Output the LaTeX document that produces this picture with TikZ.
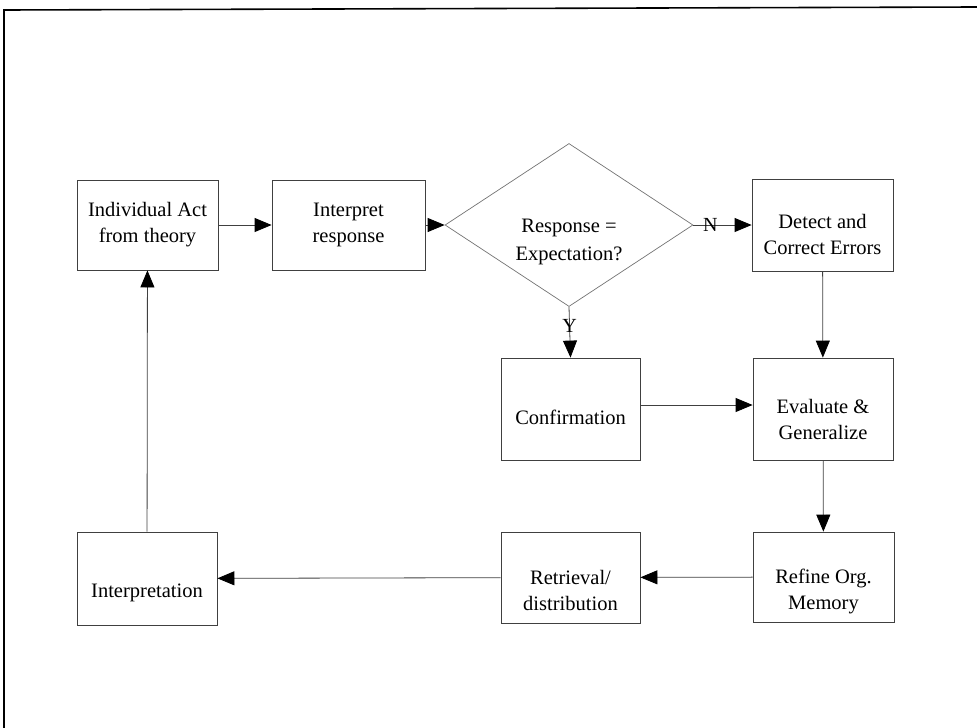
\documentclass[tikz,border=0pt]{standalone}
\usepackage{fontspec}
\setmainfont{Liberation Serif}
\usetikzlibrary{shapes.geometric,arrows.meta}
\begin{document}
\begin{tikzpicture}[x=1pt,y=-1pt,
  every node/.style={font=\fontsize{20.5}{26}\selectfont, align=center, inner sep=0pt},
  stepbox/.style={draw=black!75, line width=0.8pt, rectangle},
  decision/.style={draw=black!55, line width=0.7pt, diamond, minimum width=248pt, minimum height=163pt},
  flow/.style={draw=black!75, line width=0.8pt, -{Triangle[length=17pt,width=14pt,color=black]}},
  lbl/.style={font=\fontsize{20}{22}\selectfont},
  % box caption set a little below the box centre
  caption/.style 2 args={label={[yshift=-#1pt]center:{#2}}}
]
\useasboundingbox (0,0) rectangle (977,728);
% frame
\draw[line width=1.6pt] (4,728) -- (4,10) -- (977,7);

% process boxes
\node[stepbox, minimum width=141pt, minimum height=90pt] (ind) at (147.5,225) {Individual Act\\from theory};
\node[stepbox, minimum width=153pt, minimum height=90pt] (interp) at (348.5,225) {Interpret\\response};
\node[decision, caption={17}{Response =\\[2pt]Expectation?}] (dia) at (569,225) {};
\node[stepbox, minimum width=141pt, minimum height=92pt, caption={9}{Detect and\\Correct Errors}] (detect) at (822.5,225) {};
\node[stepbox, minimum width=139pt, minimum height=102pt, caption={8}{Confirmation}] (conf) at (570.5,409) {};
\node[stepbox, minimum width=140pt, minimum height=102pt, caption={10}{Evaluate \&\\Generalize}] (eval) at (823,409) {};
\node[stepbox, minimum width=140pt, minimum height=93pt, caption={14}{Interpretation}] (interpn) at (147,578.5) {};
\node[stepbox, minimum width=139pt, minimum height=91pt, caption={13}{Retrieval/\\distribution}] (retr) at (570.5,577.5) {};
\node[stepbox, minimum width=141pt, minimum height=90pt, caption={14}{Refine Org.\\Memory}] (refine) at (823.5,577) {};

% connectors
\draw[flow] (ind) -- (interp);
\draw[flow] (interp) -- (dia.west);
\draw[flow] (dia.east) -- node[pos=0.29, lbl] {N} (detect.west);
\draw[flow] (dia.south) -- node[pos=0.37, lbl] {Y} (conf.north);
\draw[flow] (detect) -- (eval);
\draw[flow] ([yshift=4pt]conf.east) -- ([yshift=4pt]eval.west);
\draw[flow] (eval) -- (refine);
\draw[flow] (refine) -- (retr);
\draw[flow] (retr) -- (interpn);
\draw[flow] (interpn) -- (ind);
\end{tikzpicture}
\end{document}
